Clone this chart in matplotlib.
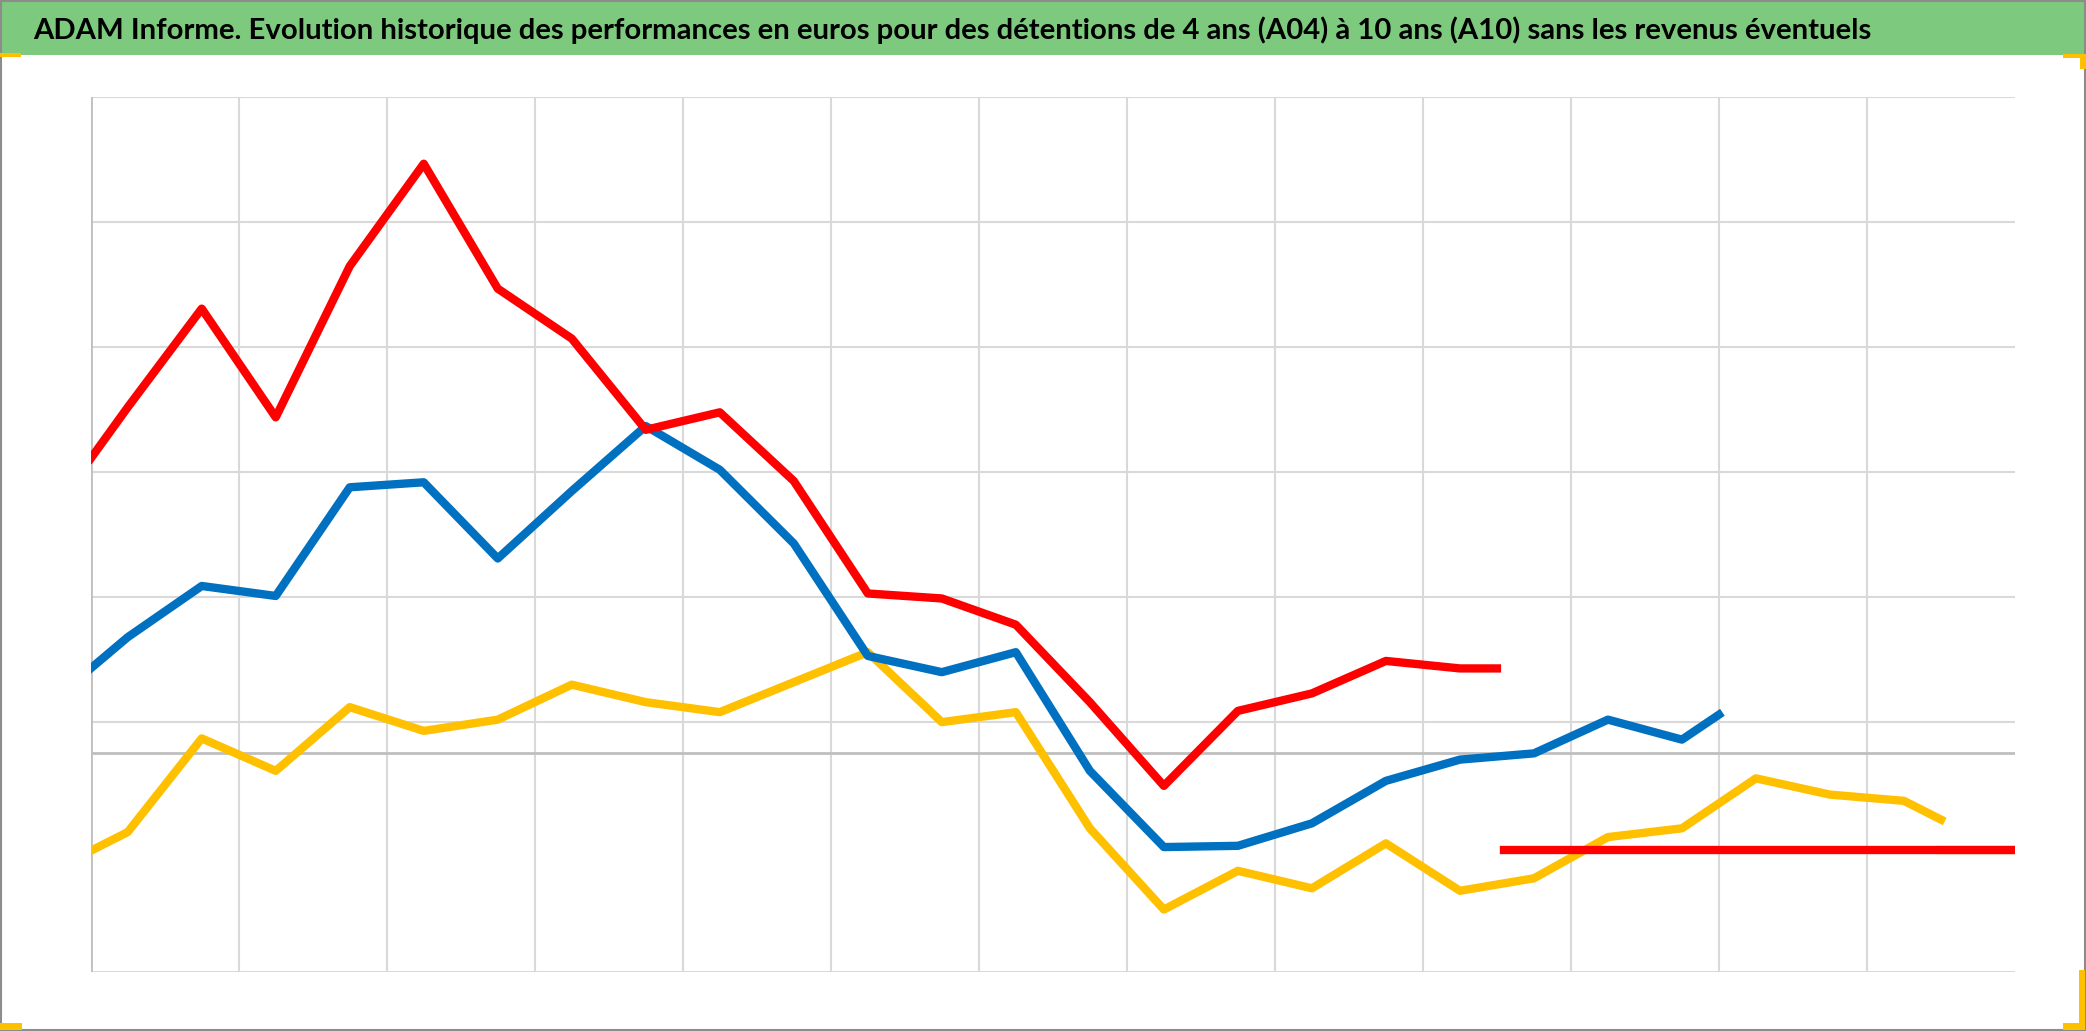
import matplotlib
matplotlib.use('Agg')
import matplotlib.pyplot as plt
from matplotlib.patches import Rectangle
import numpy as np

W, H = 2086, 1031
plt.rcParams.update({'font.family': ['Lato', 'DejaVu Sans']})

titre = "ADAM Informe. Evolution historique des performances en euros pour des détentions de 4 ans (A04) à 10 ans (A10) sans les revenus éventuels"

# valeurs (performance, axe x en annees)
x_rouge = [0, 0.5, 1.5, 2.5, 3.5, 4.5, 5.5, 6.5, 7.5, 8.5, 9.5, 10.5, 11.5, 12.5, 13.5,
           14.5, 15.5, 16.5, 17.5, 18.5, 19]
y_rouge = [0.236, 0.277, 0.356, 0.269, 0.390, 0.472, 0.372, 0.332, 0.259, 0.273, 0.218,
           0.128, 0.124, 0.103, 0.041, -0.026, 0.034, 0.048, 0.074, 0.068, 0.068]

x_bleu = [0, 0.5, 1.5, 2.5, 3.5, 4.5, 5.5, 6.5, 7.5, 8.5, 9.5, 10.5, 11.5, 12.5, 13.5,
          14.5, 15.5, 16.5, 17.5, 18.5, 19.5, 20.5, 21.5, 22]
y_bleu = [0.068, 0.093, 0.134, 0.126, 0.213, 0.217, 0.156, 0.210, 0.262, 0.227, 0.168,
          0.078, 0.065, 0.081, -0.014, -0.075, -0.074, -0.056, -0.022, -0.005, 0.000,
          0.027, 0.011, 0.031]

x_jaune = [0, 0.5, 1.5, 2.5, 3.5, 4.5, 5.5, 6.5, 7.5, 8.5, 9.5, 10.5, 11.5, 12.5, 13.5,
           14.5, 15.5, 16.5, 17.5, 18.5, 19.5, 20.5, 21.5, 22.5, 23.5, 24.5, 25]
y_jaune = [-0.078, -0.063, 0.012, -0.014, 0.037, 0.018, 0.027, 0.055, 0.041, 0.033, 0.057,
           0.081, 0.025, 0.033, -0.060, -0.125, -0.094, -0.108, -0.072, -0.110, -0.100,
           -0.067, -0.060, -0.020, -0.033, -0.038, -0.053]

# lignes plates en bas a droite
x_plat_rouge = [19.1, 26]
x_plat_jaune = [25, 26]
y_plat = [-0.077, -0.077]

fig = plt.figure(figsize=(W/100, H/100), dpi=100)
fig.patch.set_facecolor('white')

def px(x0, y0, w, h):
    # pixels (origine en haut a gauche) -> fraction de figure
    return (x0/W, 1 - (y0 + h)/H, w/W, h/H)

# bandeau vert du titre
fig.add_artist(Rectangle(px(0, 0, W, 55)[:2], 1, 55/H, transform=fig.transFigure,
                         facecolor='#7DC97D', edgecolor='none', zorder=0))
t = fig.text(33/W, 1 - 39/H, titre, fontsize=24, fontweight='bold', color='black',
             ha='left', va='baseline')
fig.canvas.draw()
largeur = t.get_window_extent(fig.canvas.get_renderer()).width
t.set_fontsize(24 * 1843 / largeur)

# cadre gris + poignees jaunes
fig.add_artist(Rectangle((0.0005, 0.0008), 0.999, 0.9985, transform=fig.transFigure,
                         facecolor='none', edgecolor='#8C8C8C', lw=1.5, zorder=5))
for (x0, y0, w, h) in [(0, 53, 21, 4), (2063, 54, 23, 4), (2080, 54, 6, 15),
                       (0, 1023, 22, 7), (2063, 1023, 22, 7), (2079, 970, 6, 60)]:
    r = px(x0, y0, w, h)
    fig.add_artist(Rectangle(r[:2], r[2], r[3], transform=fig.transFigure,
                             facecolor='#FFC000', edgecolor='none', zorder=6))

ax = fig.add_axes([90.7/W, 59/H, (2015 - 90.7)/W, (972 - 97.5)/H])
ax.set_xlim(0, 26)
ax.set_ylim(-0.175, 0.525)
for s in ax.spines.values():
    s.set_visible(False)
ax.set_xticks([])
ax.set_yticks([])

grille = '#D9D9D9'
for g in np.arange(2, 25, 2):
    ax.axvline(g, color=grille, lw=1.5, zorder=1)
for g in [0.025, 0.125, 0.225, 0.325, 0.425, 0.525, -0.175]:
    ax.axhline(g, color=grille, lw=1.5, zorder=1)
ax.axhline(0, color='#BFBFBF', lw=2, zorder=1)
ax.axvline(0, color='#BFBFBF', lw=2, zorder=1)

lw = 6
ax.plot(x_jaune, y_jaune, color='#FFC000', lw=lw, solid_joinstyle='round', zorder=3)
ax.plot(x_bleu, y_bleu, color='#0070C0', lw=lw, solid_joinstyle='round', zorder=4)
ax.plot(x_rouge, y_rouge, color='#FF0000', lw=lw, solid_joinstyle='round', zorder=5)
ax.plot(x_plat_jaune, y_plat, color='#FFC000', lw=lw, zorder=3)
ax.plot(x_plat_rouge, y_plat, color='#FF0000', lw=lw, zorder=5)

fig.savefig('out.png', dpi=100)
